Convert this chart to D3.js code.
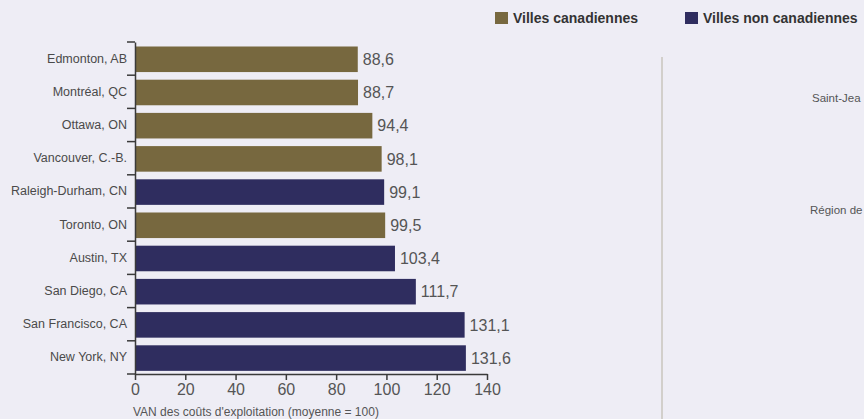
<!DOCTYPE html>
<html>
<head>
<meta charset="utf-8">
<script src="https://cdn.jsdelivr.net/npm/d3@7"></script>
<style>
  html, body { margin: 0; padding: 0; background: #eeedf5; overflow: hidden; }
  svg { display: block; font-family: "Liberation Sans", Arial, sans-serif; }
</style>
</head>
<body>
<svg id="chart" width="864" height="419"></svg>
<script>
// data
const cities = ["Edmonton, AB", "Montréal, QC", "Ottawa, ON", "Vancouver, C.-B.", "Raleigh-Durham, CN",
  "Toronto, ON", "Austin, TX", "San Diego, CA", "San Francisco, CA", "New York, NY"];
const values = [88.6, 88.7, 94.4, 98.1, 99.1, 99.5, 103.4, 111.7, 131.1, 131.6];
const groups = ["ca", "ca", "ca", "ca", "us", "ca", "us", "us", "us", "us"];
const xTicks = [0, 20, 40, 60, 80, 100, 120, 140];
const legendLabels = ["Villes canadiennes", "Villes non canadiennes"];
// labels of the next panel, cut off by the picture's edge
const rightLabels = ["Saint-Jea", "Région de"];

const colors = { ca: "#77683f", us: "#2f2d5f" };
const fmt = v => d3.format(".1f")(v).replace(".", ",");

const svg = d3.select("#chart");
const axisColor = "#3a3a3a";

const x = d3.scaleLinear().domain([0, 140]).range([135, 487]);
const y = d3.scaleBand().domain(cities).range([42, 374]).padding(0);

const data = cities.map((c, i) => ({ city: c, value: values[i], group: groups[i] }));

// bars
svg.append("g")
  .selectAll("rect")
  .data(data)
  .join("rect")
    .attr("x", x(0))
    .attr("y", d => y(d.city) + 4.5)
    .attr("width", d => x(d.value) - x(0))
    .attr("height", y.bandwidth() * 0.77)
    .attr("fill", d => colors[d.group]);

// value labels
svg.append("g")
  .selectAll("text")
  .data(data)
  .join("text")
    .attr("x", d => x(d.value) + 5)
    .attr("y", d => y(d.city) + 4.5 + y.bandwidth() * 0.385)
    .attr("dy", "0.36em")
    .attr("font-size", 16)
    .attr("fill", "#555")
    .text(d => fmt(d.value));

// y axis: labels centered in band, ticks at band boundaries
const yAxis = svg.append("g")
  .attr("transform", `translate(${x(0)},0)`)
  .call(d3.axisLeft(y).tickSize(0).tickPadding(8));
yAxis.select(".domain").attr("stroke", axisColor).attr("stroke-width", 1.5);
yAxis.selectAll(".tick text")
  .attr("font-size", 12.5)
  .attr("fill", "#4a4a4a")
  .attr("font-family", "Liberation Sans, Arial, sans-serif");

const bounds = cities.map(c => y(c)).concat([y.range()[1]]);
yAxis.selectAll("line.bound")
  .data(bounds)
  .join("line")
    .attr("class", "bound")
    .attr("x1", -8).attr("x2", 0)
    .attr("y1", d => d).attr("y2", d => d)
    .attr("stroke", axisColor)
    .attr("stroke-width", 1.5);

// x axis
const xAxis = svg.append("g")
  .attr("transform", `translate(0,${y.range()[1]})`)
  .call(d3.axisBottom(x).tickValues(xTicks).tickSize(6).tickPadding(4).tickSizeOuter(0));
xAxis.select(".domain").attr("stroke", axisColor).attr("stroke-width", 1.5);
xAxis.selectAll(".tick line").attr("stroke", axisColor).attr("stroke-width", 1.5);
xAxis.selectAll(".tick text")
  .attr("font-size", 16)
  .attr("fill", "#555")
  .attr("font-family", "Liberation Sans, Arial, sans-serif");

svg.append("text")
  .attr("x", 133)
  .attr("y", 412)
  .attr("dy", "0.35em")
  .attr("font-size", 12)
  .attr("fill", "#555")
  .text("VAN des coûts d'exploitation (moyenne = 100)");

// legend
const legendX = [495, 685];
const legend = svg.append("g")
  .selectAll("g")
  .data(legendLabels)
  .join("g")
    .attr("transform", (d, i) => `translate(${legendX[i]},12)`);
legend.append("rect")
  .attr("width", 13).attr("height", 12)
  .attr("fill", (d, i) => colors[i === 0 ? "ca" : "us"]);
legend.append("text")
  .attr("x", 18)
  .attr("y", 6)
  .attr("dy", "0.36em")
  .attr("font-size", 14)
  .attr("font-weight", "bold")
  .attr("fill", "#333")
  .text(d => d);

// separator and labels of the neighbouring panel
svg.append("line")
  .attr("x1", 662).attr("x2", 662)
  .attr("y1", 57).attr("y2", 419)
  .attr("stroke", "#c9c5bd")
  .attr("stroke-width", 1.5);

svg.append("g")
  .selectAll("text")
  .data(rightLabels)
  .join("text")
    .attr("x", (d, i) => [812, 810][i])
    .attr("y", (d, i) => [98, 210][i])
    .attr("dy", "0.35em")
    .attr("font-size", 11.5)
    .attr("fill", "#555")
    .text(d => d);
</script>
</body>
</html>
